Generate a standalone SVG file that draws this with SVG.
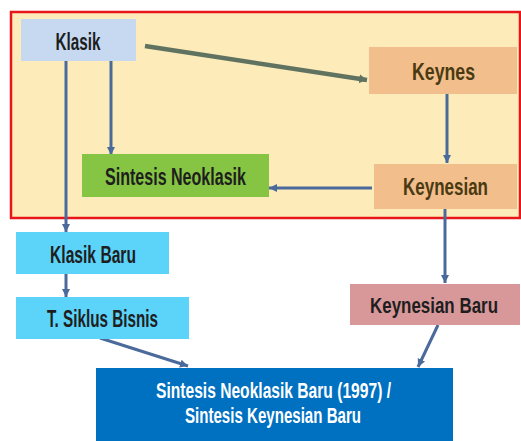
<svg xmlns="http://www.w3.org/2000/svg" width="521" height="441" viewBox="0 0 521 441">
<style>
.t{font-family:"Liberation Sans",Arial,sans-serif;font-weight:bold;font-size:24px;text-anchor:middle}
.s{font-size:22px}
.dk{fill:#1e1e1e}
.br{fill:#4a3a12}
.wh{fill:#ffffff;font-size:22px}
.c{fill:none;stroke:#4a6a9c;stroke-width:3}
.g{fill:none;stroke:#5f7360;stroke-width:4.5}
</style>
<defs>
<marker id="ah" markerUnits="userSpaceOnUse" markerWidth="10" markerHeight="10" refX="8" refY="4" orient="auto">
<path d="M0,0 L8,4 L0,8 Z" fill="#4a6a9c"/>
</marker>
<marker id="ag" markerUnits="userSpaceOnUse" markerWidth="10" markerHeight="10" refX="8" refY="4.5" orient="auto">
<path d="M0,0 L8,4.5 L0,9 Z" fill="#5f7360"/>
</marker>
</defs>
<rect x="11" y="12" width="509" height="206" fill="#fdebb9" stroke="#e8161b" stroke-width="2.5"/>
<g id="connectors">
<line class="g" x1="145" y1="46" x2="367" y2="80" marker-end="url(#ag)"/>
<line class="c" x1="111" y1="61" x2="111" y2="155" marker-end="url(#ah)"/>
<line class="c" x1="66" y1="61" x2="66" y2="232" marker-end="url(#ah)"/>
<line class="c" x1="447" y1="94" x2="447" y2="163" marker-end="url(#ah)"/>
<line class="c" x1="372" y1="188" x2="269" y2="188" marker-end="url(#ah)"/>
<line class="c" x1="66" y1="274" x2="66" y2="297" marker-end="url(#ah)"/>
<line class="c" x1="445" y1="209" x2="445" y2="283" marker-end="url(#ah)"/>
<line class="c" x1="100" y1="338" x2="188" y2="366" marker-end="url(#ah)"/>
<line class="c" x1="438" y1="325" x2="418" y2="367" marker-end="url(#ah)"/>
</g>
<g id="klasik">
<rect x="21" y="19" width="115" height="42" fill="#c6d9f1"/>
<text class="t dk" x="78" y="50" textLength="45" lengthAdjust="spacingAndGlyphs">Klasik</text>
</g>
<g id="sintesis-neoklasik">
<rect x="82" y="154" width="187" height="43" fill="#86c443"/>
<text class="t dk" x="175.5" y="185" textLength="141" lengthAdjust="spacingAndGlyphs">Sintesis Neoklasik</text>
</g>
<g id="keynes">
<rect x="369" y="47" width="148" height="47" fill="#f2be8c"/>
<text class="t br" x="443.5" y="80" textLength="63" lengthAdjust="spacingAndGlyphs">Keynes</text>
</g>
<g id="keynesian">
<rect x="374" y="164" width="143" height="45" fill="#f2be8c"/>
<text class="t br" x="445.5" y="195" textLength="85" lengthAdjust="spacingAndGlyphs">Keynesian</text>
</g>
<g id="klasik-baru">
<rect x="16" y="232" width="153" height="42" fill="#5cd3f8"/>
<text class="t dk" x="93" y="263" textLength="86" lengthAdjust="spacingAndGlyphs">Klasik Baru</text>
</g>
<g id="siklus-bisnis">
<rect x="16" y="297" width="173" height="42" fill="#5cd3f8"/>
<text class="t dk" x="102.5" y="327" textLength="111" lengthAdjust="spacingAndGlyphs">T. Siklus Bisnis</text>
</g>
<g id="keynesian-baru">
<rect x="350" y="284" width="170" height="41" fill="#d8989a"/>
<text class="t s dk" x="434" y="313" textLength="128" lengthAdjust="spacingAndGlyphs">Keynesian Baru</text>
</g>
<g id="sintesis-baru">
<rect x="96" y="368" width="357" height="73" fill="#0070c0"/>
<text class="t wh" x="273.5" y="398" textLength="235" lengthAdjust="spacingAndGlyphs">Sintesis Neoklasik Baru (1997) /</text>
<text class="t wh" x="273" y="423" textLength="176" lengthAdjust="spacingAndGlyphs">Sintesis Keynesian Baru</text>
</g>
</svg>
